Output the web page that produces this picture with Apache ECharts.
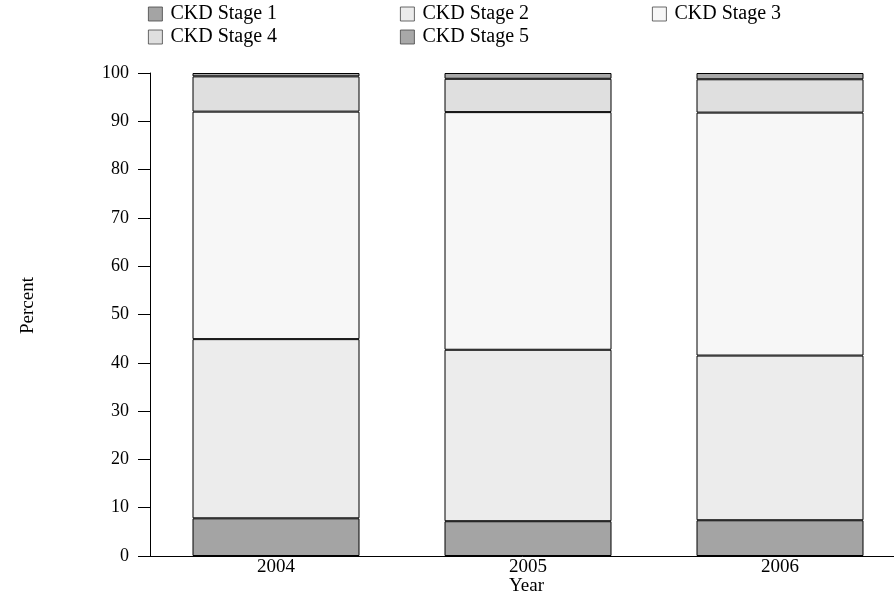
<!DOCTYPE html>
<html>
<head>
<meta charset="utf-8">
<script src="https://cdn.jsdelivr.net/npm/echarts@6/dist/echarts.min.js"></script>
<style>
  html, body { margin: 0; padding: 0; background: #fff; }
  #chart { width: 894px; height: 595px; }
</style>
</head>
<body>
<div id="chart"></div>
<script>
// 数据
var years = ['2004', '2005', '2006'];
var stage1 = [7.8, 7.2, 7.4];
var stage2 = [37.1, 35.5, 34.1];
var stage3 = [47.1, 49.2, 50.3];
var stage4 = [7.3, 6.9, 6.9];
var stage5 = [0.7, 1.2, 1.3];
var stageNames = ['CKD Stage 1', 'CKD Stage 2', 'CKD Stage 3', 'CKD Stage 4', 'CKD Stage 5'];
var stageValues = [stage1, stage2, stage3, stage4, stage5];
var stageColors = ['#a4a4a4', '#ececec', '#f7f7f7', '#dfdfdf', '#a8a8a8'];

var font = 'Liberation Serif';

function makeSeries(i) {
    return {
        name: stageNames[i],
        type: 'bar',
        stack: 'ckd',
        barWidth: 167,
        data: stageValues[i],
        itemStyle: {
            color: stageColors[i],
            borderColor: '#000',
            borderWidth: 1
        }
    };
}

// 图例分三列
function makeLegend(left, names) {
    return {
        left: left,
        top: 4,
        padding: 0,
        orient: 'vertical',
        itemGap: 3,
        itemWidth: 14,
        itemHeight: 14,
        icon: 'rect',
        data: names,
        itemStyle: { borderColor: '#444', borderWidth: 0.8 },
        textStyle: { fontFamily: font, fontSize: 20, color: '#000', padding: [0, 0, 0, 3] }
    };
}

var chart = echarts.init(document.getElementById('chart'));
var option = {
    backgroundColor: '#ffffff',
    animation: false,
    // x轴名称用title放在轴下方
    title: {
        text: 'Year',
        left: 509,
        top: 577,
        padding: 0,
        textStyle: { fontFamily: font, fontSize: 19, fontWeight: 'normal', color: '#000' }
    },
    legend: [
        makeLegend(148, ['CKD Stage 1', 'CKD Stage 4']),
        makeLegend(400, ['CKD Stage 2', 'CKD Stage 5']),
        makeLegend(652, ['CKD Stage 3'])
    ],
    grid: { left: 150, width: 756, top: 73, bottom: 39, containLabel: false, outerBoundsMode: 'none' },
    xAxis: {
        type: 'category',
        data: years,
        axisLine: { lineStyle: { color: '#000', width: 1 } },
        axisTick: { show: false },
        axisLabel: { fontFamily: font, fontSize: 19, color: '#000', margin: 2 }
    },
    yAxis: {
        type: 'value',
        min: 0,
        max: 100,
        interval: 10,
        name: 'Percent',
        nameLocation: 'middle',
        nameGap: 112,
        nameTextStyle: { fontFamily: font, fontSize: 19, color: '#000', padding: [0, 0, 0, 18] },
        axisLine: { show: true, lineStyle: { color: '#000', width: 1 } },
        axisTick: { show: true, length: 12, lineStyle: { color: '#000' } },
        splitLine: { show: false },
        axisLabel: { fontFamily: font, fontSize: 18, color: '#000', margin: 21 }
    },
    series: [0, 1, 2, 3, 4].map(makeSeries)
};
chart.setOption(option);
</script>
</body>
</html>
